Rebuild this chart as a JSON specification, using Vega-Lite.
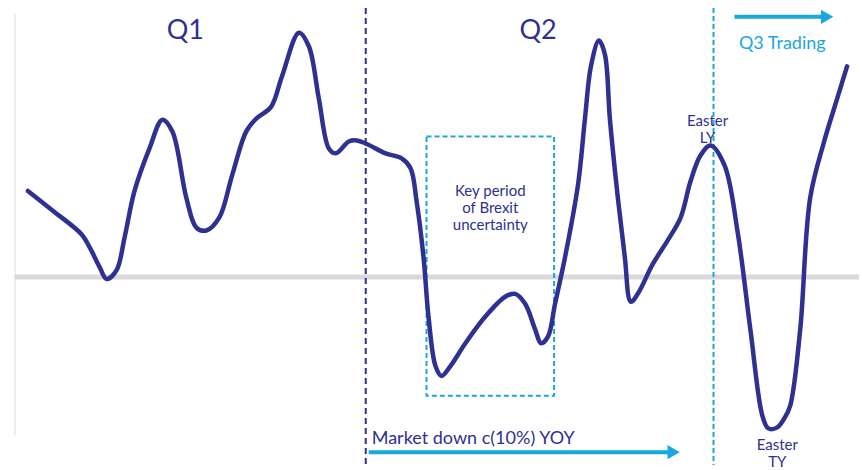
{
  "$schema": "https://vega.github.io/schema/vega-lite/v6.json",
  "width": 862,
  "height": 470,
  "autosize": {"type": "fit", "contains": "padding"},
  "padding": 0,
  "background": "white",
  "config": {"view": {"stroke": null}, "font": "Lato"},
  "datasets": {
    "series": [
      {"x": 28, "y": 8.7}, {"x": 53, "y": 6.7}, {"x": 82, "y": 4.3}, {"x": 90, "y": 3.0},
      {"x": 100, "y": 1.0}, {"x": 107, "y": -0.2}, {"x": 117, "y": 0.7}, {"x": 125, "y": 4.0},
      {"x": 135, "y": 8.7}, {"x": 150, "y": 13.0}, {"x": 163, "y": 15.9}, {"x": 173, "y": 14.7},
      {"x": 187, "y": 8.0}, {"x": 197, "y": 5.0}, {"x": 207, "y": 4.7}, {"x": 220, "y": 6.0},
      {"x": 233, "y": 10.3}, {"x": 247, "y": 14.7}, {"x": 257, "y": 16.0}, {"x": 272, "y": 17.2},
      {"x": 283, "y": 20.3}, {"x": 300, "y": 24.7}, {"x": 310, "y": 23.3}, {"x": 320, "y": 18.0},
      {"x": 330, "y": 13.0}, {"x": 337, "y": 12.5}, {"x": 350, "y": 13.7}, {"x": 358, "y": 13.8},
      {"x": 367, "y": 13.5}, {"x": 387, "y": 12.5}, {"x": 403, "y": 12.0}, {"x": 412, "y": 11.0},
      {"x": 418, "y": 7.7}, {"x": 425, "y": 2.0}, {"x": 430, "y": -4.0}, {"x": 437, "y": -9.0},
      {"x": 443, "y": -10.0}, {"x": 452, "y": -9.0}, {"x": 467, "y": -6.7}, {"x": 487, "y": -4.0},
      {"x": 507, "y": -2.0}, {"x": 517, "y": -1.7}, {"x": 527, "y": -2.7}, {"x": 537, "y": -5.3},
      {"x": 543, "y": -6.7}, {"x": 550, "y": -6.0}, {"x": 557, "y": -2.7}, {"x": 567, "y": 2.0},
      {"x": 580, "y": 9.3}, {"x": 587, "y": 16.0}, {"x": 593, "y": 21.3}, {"x": 601, "y": 23.9},
      {"x": 607, "y": 22.5}, {"x": 612, "y": 16.0}, {"x": 620, "y": 8.0}, {"x": 627, "y": 2.0},
      {"x": 633, "y": -2.5}, {"x": 640, "y": -1.7}, {"x": 655, "y": 1.3}, {"x": 670, "y": 3.7},
      {"x": 683, "y": 6.0}, {"x": 693, "y": 9.7}, {"x": 703, "y": 12.3}, {"x": 713, "y": 13.3},
      {"x": 727, "y": 11.3}, {"x": 740, "y": 4.7}, {"x": 753, "y": -5.3}, {"x": 765, "y": -14.0},
      {"x": 771, "y": -15.3}, {"x": 780, "y": -15.2}, {"x": 787, "y": -14.3}, {"x": 793, "y": -13.0},
      {"x": 803, "y": -5.3}, {"x": 813, "y": 8.0}, {"x": 827, "y": 13.7}, {"x": 840, "y": 18.0},
      {"x": 850, "y": 21.3}
    ]
  },
  "encoding": {
    "x": {"type": "quantitative", "scale": {"domain": [0, 862], "nice": false, "zero": false}, "axis": null},
    "y": {"type": "quantitative", "scale": {"domain": [-19, 28], "nice": false, "zero": false}, "axis": null}
  },
  "layer": [
    {
      "data": {"values": [{"x": 15, "y": 26.6, "y2": -16}]},
      "mark": {"type": "rule", "color": "#efeee4", "strokeWidth": 2},
      "encoding": {"x": {"field": "x", "type": "quantitative"}, "y": {"field": "y", "type": "quantitative"}, "y2": {"field": "y2"}}
    },
    {
      "data": {"values": [{"x": 15, "x2": 862, "y": 0}]},
      "mark": {"type": "rule", "color": "#d9d9d9", "strokeWidth": 5},
      "encoding": {"x": {"field": "x", "type": "quantitative"}, "x2": {"field": "x2"}, "y": {"field": "y", "type": "quantitative"}}
    },
    {
      "data": {"values": [{"x": 367, "y": 27.2, "y2": -19}]},
      "mark": {"type": "rule", "color": "#2E3192", "strokeWidth": 2, "strokeDash": [6, 4]},
      "encoding": {"x": {"field": "x", "type": "quantitative"}, "y": {"field": "y", "type": "quantitative"}, "y2": {"field": "y2"}}
    },
    {
      "data": {"values": [{"x": 716, "y": 27.2, "y2": -19}]},
      "mark": {"type": "rule", "color": "#17A8E0", "strokeWidth": 2, "strokeDash": [5, 3]},
      "encoding": {"x": {"field": "x", "type": "quantitative"}, "y": {"field": "y", "type": "quantitative"}, "y2": {"field": "y2"}}
    },
    {
      "data": {"values": [{"x": 428, "x2": 556, "y": 14.2, "y2": -12}]},
      "mark": {"type": "rect", "fill": null, "fillOpacity": 0, "stroke": "#17A8E0", "strokeWidth": 2, "strokeDash": [5, 3]},
      "encoding": {"x": {"field": "x", "type": "quantitative"}, "x2": {"field": "x2"}, "y": {"field": "y", "type": "quantitative"}, "y2": {"field": "y2"}}
    },
    {
      "data": {"name": "series"},
      "mark": {"type": "line", "color": "#2E3192", "strokeWidth": 4.5, "interpolate": "catmull-rom", "strokeCap": "round"},
      "encoding": {"x": {"field": "x", "type": "quantitative"}, "y": {"field": "y", "type": "quantitative"}}
    },
    {
      "data": {"values": [{"x": 737, "x2": 827, "y": 26.3}, {"x": 370, "x2": 672, "y": -17.7}]},
      "mark": {"type": "rule", "color": "#17A8E0", "strokeWidth": 4},
      "encoding": {"x": {"field": "x", "type": "quantitative"}, "x2": {"field": "x2"}, "y": {"field": "y", "type": "quantitative"}}
    },
    {
      "data": {"values": [{"x": 830, "y": 26.3}, {"x": 676, "y": -17.7}]},
      "mark": {"type": "point", "shape": "triangle-right", "filled": true, "color": "#17A8E0", "size": 200, "opacity": 1},
      "encoding": {"x": {"field": "x", "type": "quantitative"}, "y": {"field": "y", "type": "quantitative"}}
    },
    {
      "data": {"values": [{"label": "Q1", "x": 186, "y": 24.1}, {"label": "Q2", "x": 540, "y": 24.1}]},
      "mark": {"type": "text", "color": "#2E3192", "fontSize": 27, "align": "center", "baseline": "alphabetic"},
      "encoding": {"x": {"field": "x", "type": "quantitative"}, "y": {"field": "y", "type": "quantitative"}, "text": {"field": "label"}}
    },
    {
      "data": {"values": [{"label": "Q3 Trading", "x": 785, "y": 23.0}]},
      "mark": {"type": "text", "color": "#17A8E0", "fontSize": 18, "align": "center", "baseline": "alphabetic"},
      "encoding": {"x": {"field": "x", "type": "quantitative"}, "y": {"field": "y", "type": "quantitative"}, "text": {"field": "label"}}
    },
    {
      "data": {"values": [{"label": "Market down c(10%) YOY", "x": 373, "y": -16.9}]},
      "mark": {"type": "text", "color": "#2E3192", "fontSize": 18, "align": "left", "baseline": "alphabetic"},
      "encoding": {"x": {"field": "x", "type": "quantitative"}, "y": {"field": "y", "type": "quantitative"}, "text": {"field": "label"}}
    },
    {
      "data": {"values": [
        {"label": "Key period\nof Brexit\nuncertainty", "x": 492, "y": 8.2},
        {"label": "Easter\nLY", "x": 710, "y": 15.3},
        {"label": "Easter\nTY", "x": 780, "y": -17.5}
      ]},
      "mark": {"type": "text", "color": "#2E3192", "fontSize": 15, "align": "center", "baseline": "alphabetic", "lineBreak": "\n", "lineHeight": 17},
      "encoding": {"x": {"field": "x", "type": "quantitative"}, "y": {"field": "y", "type": "quantitative"}, "text": {"field": "label"}}
    }
  ]
}
